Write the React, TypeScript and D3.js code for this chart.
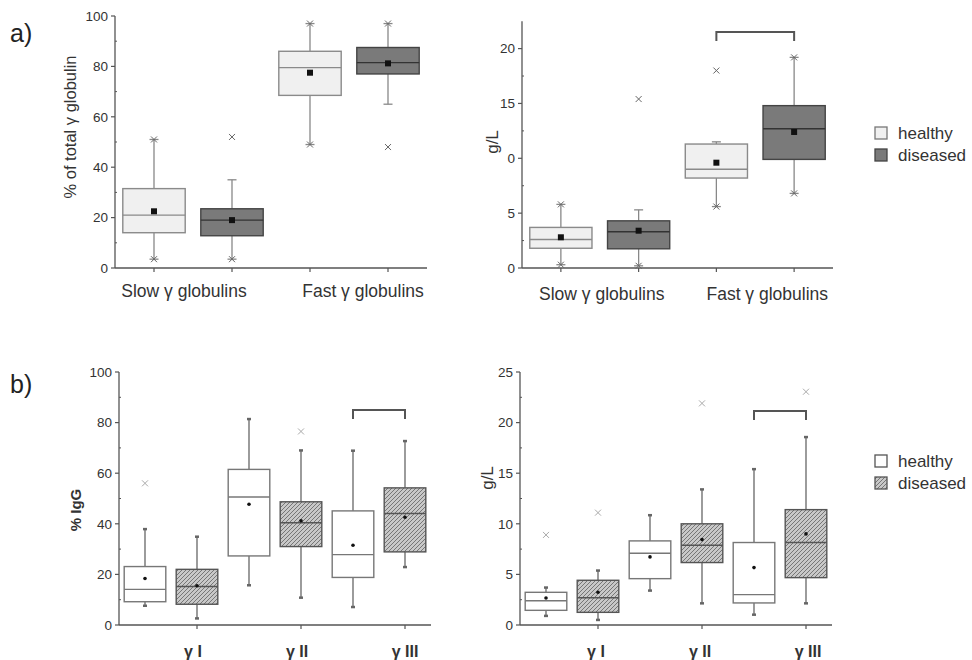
import React from "react";
import * as d3 from "d3";

type Box = { lo: number; q1: number; med: number; q3: number; hi: number; mean: number; marks: number[] };

// ---------- Data ----------
const aCategories = ["Slow γ globulins", "Fast γ globulins"];
const groups = ["healthy", "diseased"];

const aPctHealthy: Box[] = [
  { lo: 3.5, q1: 14, med: 21, q3: 31.5, hi: 51, mean: 22.5, marks: [3.5, 51] },
  { lo: 49, q1: 68.5, med: 79.5, q3: 86, hi: 97, mean: 77.5, marks: [49, 97] },
];
const aPctDiseased: Box[] = [
  { lo: 3.5, q1: 12.8, med: 19, q3: 23.5, hi: 35, mean: 19, marks: [3.5, 52] },
  { lo: 65, q1: 77, med: 81.5, q3: 87.5, hi: 97, mean: 81.2, marks: [48, 97] },
];
const aGLHealthy: Box[] = [
  { lo: 0.3, q1: 1.8, med: 2.6, q3: 3.7, hi: 5.8, mean: 2.8, marks: [0.3, 5.8] },
  { lo: 5.6, q1: 8.2, med: 9.0, q3: 11.3, hi: 11.5, mean: 9.6, marks: [5.6, 18.0] },
];
const aGLDiseased: Box[] = [
  { lo: 0.2, q1: 1.75, med: 3.3, q3: 4.3, hi: 5.3, mean: 3.4, marks: [0.2, 15.4] },
  { lo: 6.8, q1: 9.9, med: 12.7, q3: 14.8, hi: 19.2, mean: 12.4, marks: [6.8, 19.2] },
];

const bCategories = ["γ I", "γ II", "γ III"];
const bPctHealthy: Box[] = [
  { lo: 7.6, q1: 9.2, med: 14.1, q3: 23.1, hi: 37.9, mean: 18.4, marks: [56] },
  { lo: 15.7, q1: 27.3, med: 50.6, q3: 61.5, hi: 81.4, mean: 47.7, marks: [] },
  { lo: 7.1, q1: 18.8, med: 27.8, q3: 45.1, hi: 68.9, mean: 31.5, marks: [] },
];
const bPctDiseased: Box[] = [
  { lo: 2.6, q1: 8.2, med: 15.2, q3: 22.0, hi: 34.9, mean: 15.5, marks: [] },
  { lo: 10.8, q1: 31.0, med: 40.4, q3: 48.7, hi: 69.0, mean: 41.2, marks: [76.5] },
  { lo: 22.9, q1: 28.9, med: 44.1, q3: 54.2, hi: 72.7, mean: 42.6, marks: [] },
];
const bGLHealthy: Box[] = [
  { lo: 0.9, q1: 1.45, med: 2.4, q3: 3.23, hi: 3.7, mean: 2.67, marks: [8.9] },
  { lo: 3.4, q1: 4.58, med: 7.09, q3: 8.31, hi: 10.85, mean: 6.73, marks: [] },
  { lo: 1.02, q1: 2.18, med: 3.0, q3: 8.15, hi: 15.4, mean: 5.67, marks: [] },
];
const bGLDiseased: Box[] = [
  { lo: 0.5, q1: 1.25, med: 2.7, q3: 4.42, hi: 5.38, mean: 3.23, marks: [11.1] },
  { lo: 2.14, q1: 6.17, med: 7.88, q3: 10.0, hi: 13.4, mean: 8.44, marks: [21.9] },
  { lo: 2.14, q1: 4.68, med: 8.15, q3: 11.4, hi: 18.57, mean: 9.0, marks: [23.05] },
];

const pctTicks = [0, 20, 40, 60, 80, 100];
const aGLTicks = [0, 5, 10, 15, 20];
const aGLTickLabels = ["0", "5", "0", "15", "20"];
const bGLTicks = [0, 5, 10, 15, 20, 25];

// ---------- Drawing ----------
const FONT = "'Liberation Sans', Arial, sans-serif";
const AXIS = "#555";

type Style = "a" | "b";

function Panel(props: {
  x0: number; x1: number; yb: number; yt: number; dmax: number; vmax: number;
  ticks: number[]; tickLabels?: string[]; minorStep: number;
  healthy: Box[]; diseased: Box[]; cats: string[]; style: Style;
  ylabel: string; ylabelX: number; ylabelY: number; ylabelBold?: boolean; ylabelSize: number;
  catLabelY: number; catLabelSize: number; catBold?: boolean; catShift?: number[];
  bracket?: { cat: number; y: number };
}) {
  const p = props;
  const y = d3.scaleLinear().domain([0, p.vmax]).range([p.yb, p.yt]);
  const nSlots = p.cats.length * 2;
  const slot = d3.scaleBand<number>().domain(d3.range(nSlots)).range([p.x0, p.x1]);
  const center = (i: number) => (slot(i) as number) + slot.bandwidth() / 2;
  const bw = slot.bandwidth() * 0.8;
  const minor = d3.range(p.minorStep, p.dmax, p.minorStep * 2).filter((v) => v <= p.dmax);
  const isA = p.style === "a";

  const drawBox = (b: Box, i: number, g: "healthy" | "diseased") => {
    const cx = center(i);
    let fill: string, stroke: string, medStroke: string;
    if (isA) {
      fill = g === "healthy" ? "#f0f0f0" : "#7a7a7a";
      stroke = g === "healthy" ? "#8a8a8a" : "#444";
      medStroke = g === "healthy" ? "#8a8a8a" : "#333";
    } else {
      fill = g === "healthy" ? "#fff" : "url(#hatch)";
      stroke = g === "healthy" ? "#777" : "#555";
      medStroke = g === "healthy" ? "#777" : "#555";
    }
    const wStroke = isA ? "#888" : "#666";
    const capW = isA ? 9 : 4;
    return (
      <g key={g + i}>
        <line x1={cx} x2={cx} y1={y(b.hi)} y2={y(b.q3)} stroke={wStroke} strokeWidth={1.3} />
        <line x1={cx} x2={cx} y1={y(b.q1)} y2={y(b.lo)} stroke={wStroke} strokeWidth={1.3} />
        <line x1={cx - capW / 2} x2={cx + capW / 2} y1={y(b.hi)} y2={y(b.hi)} stroke={wStroke} strokeWidth={isA ? 1.3 : 2.5} />
        <line x1={cx - capW / 2} x2={cx + capW / 2} y1={y(b.lo)} y2={y(b.lo)} stroke={wStroke} strokeWidth={isA ? 1.3 : 2.5} />
        <rect x={cx - bw / 2} y={y(b.q3)} width={bw} height={y(b.q1) - y(b.q3)} fill={fill} stroke={stroke} strokeWidth={1.4} />
        <line x1={cx - bw / 2} x2={cx + bw / 2} y1={y(b.med)} y2={y(b.med)} stroke={medStroke} strokeWidth={1.4} />
        {isA ? (
          <rect x={cx - 3} y={y(b.mean) - 3} width={6} height={6} fill="#111" />
        ) : (
          <circle cx={cx} cy={y(b.mean)} r={1.8} fill="#111" />
        )}
        {b.marks.map((m, k) => (
          <g key={k} transform={`translate(${cx},${y(m)})`} stroke={isA ? "#666" : "#aaa"} strokeWidth={1}>
            <line x1={-3} y1={-3} x2={3} y2={3} />
            <line x1={-3} y1={3} x2={3} y2={-3} />
          </g>
        ))}
      </g>
    );
  };

  const labels = p.tickLabels ?? p.ticks.map((t) => String(t));
  return (
    <g>
      <line x1={p.x0} x2={p.x0} y1={p.yb} y2={y(p.dmax)} stroke={AXIS} strokeWidth={1.3} />
      {p.ticks.map((t, i) => (
        <g key={t}>
          <line x1={p.x0 - 4} x2={p.x0} y1={y(t)} y2={y(t)} stroke={AXIS} strokeWidth={1.2} />
          <text x={p.x0 - 7} y={y(t)} dy="0.35em" textAnchor="end" fontSize={13.5} fill="#333" fontFamily={FONT}>
            {labels[i]}
          </text>
        </g>
      ))}
      {minor.map((t) => (
        <line key={"m" + t} x1={p.x0} x2={p.x0 + 2} y1={y(t)} y2={y(t)} stroke={AXIS} strokeWidth={1} />
      ))}
      <line x1={p.x0} x2={p.x1} y1={p.yb} y2={p.yb} stroke={AXIS} strokeWidth={1.3} />
      {d3.range(nSlots).filter((i) => isA || i % 2 === 1).map((i) => (
        <line key={"xt" + i} x1={center(i)} x2={center(i)} y1={p.yb} y2={p.yb + 4} stroke={AXIS} strokeWidth={1.2} />
      ))}
      {p.cats.map((c, i) => {
        const base = isA ? (center(2 * i) + center(2 * i + 1)) / 2 : center(2 * i + 1);
        const cx = base + (p.catShift ? p.catShift[i] : 0);
        return (
          <text key={c} x={cx} y={p.catLabelY} textAnchor="middle" fontSize={p.catLabelSize} fill="#333"
            fontFamily={FONT} fontWeight={p.catBold ? "bold" : "normal"}>
            {c}
          </text>
        );
      })}
      <text transform={`translate(${p.ylabelX},${p.ylabelY}) rotate(-90)`} textAnchor="middle"
        dy="0.35em" fontSize={p.ylabelSize} fill="#333" fontFamily={FONT} fontWeight={p.ylabelBold ? "bold" : "normal"}>
        {p.ylabel}
      </text>
      {p.healthy.map((b, i) => drawBox(b, 2 * i, "healthy"))}
      {p.diseased.map((b, i) => drawBox(b, 2 * i + 1, "diseased"))}
      {p.bracket && (() => {
        const xa = center(2 * p.bracket.cat);
        const xb = center(2 * p.bracket.cat + 1);
        const yt = p.bracket.y;
        return (
          <path d={`M${xa},${yt + 9} L${xa},${yt} L${xb},${yt} L${xb},${yt + 9}`} fill="none" stroke="#555" strokeWidth={2} />
        );
      })()}
    </g>
  );
}

function Legend(props: { x: number; y: number; style: Style }) {
  const isA = props.style === "a";
  return (
    <g>
      {groups.map((g, i) => (
        <g key={g} transform={`translate(${props.x},${props.y + i * 22})`}>
          <rect x={0} y={-6} width={12} height={12}
            fill={isA ? (i === 0 ? "#f0f0f0" : "#7a7a7a") : i === 0 ? "#fff" : "url(#hatch)"}
            stroke={isA ? (i === 0 ? "#777" : "#444") : "#555"} strokeWidth={1.3} />
          <text x={23} y={0} dy="0.35em" fontSize={17} fill="#333" fontFamily={FONT}>{g}</text>
        </g>
      ))}
    </g>
  );
}

export default function App() {
  return (
    <svg width={972} height={660} style={{ position: "absolute", left: 0, top: 0, background: "#fff" }}>
      <defs>
        <pattern id="hatch" patternUnits="userSpaceOnUse" width={4} height={4}>
          <rect width={4} height={4} fill="#c8c8c8" />
          <path d="M-1,1 l2,-2 M0,4 l4,-4 M3,5 l2,-2" stroke="#767676" strokeWidth={1} />
        </pattern>
      </defs>
      <rect width={972} height={660} fill="#fff" />
      <text x={10} y={42} fontSize={25} fill="#222" fontFamily={FONT}>a)</text>
      <text x={10} y={393} fontSize={25} fill="#222" fontFamily={FONT}>b)</text>

      <Panel x0={115} x1={427} yb={268} yt={16} dmax={100} vmax={100} ticks={pctTicks} minorStep={10}
        healthy={aPctHealthy} diseased={aPctDiseased} cats={aCategories} style="a"
        ylabel="% of total γ globulin" ylabelX={70} ylabelY={127} ylabelSize={16.5}
        catLabelY={297} catLabelSize={17.5} catShift={[-9, 14]} />
      <Panel x0={522} x1={833} yb={268} yt={268 - 22.5 * 10.97} dmax={22.5} vmax={22.5} ticks={aGLTicks}
        tickLabels={aGLTickLabels} minorStep={2.5}
        healthy={aGLHealthy} diseased={aGLDiseased} cats={aCategories} style="a"
        ylabel="g/L" ylabelX={492} ylabelY={142} ylabelSize={17} catLabelY={300} catLabelSize={17.5}
        catShift={[2, 12]} bracket={{ cat: 1, y: 32 }} />
      <Legend x={875} y={133} style="a" />

      <Panel x0={119} x1={431} yb={625} yt={372} dmax={100} vmax={100} ticks={pctTicks} minorStep={10}
        healthy={bPctHealthy} diseased={bPctDiseased} cats={bCategories} style="b"
        ylabel="% IgG" ylabelX={76} ylabelY={510} ylabelBold ylabelSize={15} catLabelY={657} catLabelSize={16} catBold
        catShift={[-4, -4, 0]} bracket={{ cat: 2, y: 410 }} />
      <Panel x0={520} x1={832} yb={625} yt={372} dmax={25} vmax={25} ticks={bGLTicks} minorStep={2.5}
        healthy={bGLHealthy} diseased={bGLDiseased} cats={bCategories} style="b"
        ylabel="g/L" ylabelX={487} ylabelY={478} ylabelSize={17} catLabelY={657} catLabelSize={16} catBold
        catShift={[-2, -2, 2]} bracket={{ cat: 2, y: 411 }} />
      <Legend x={875} y={461} style="b" />
    </svg>
  );
}
